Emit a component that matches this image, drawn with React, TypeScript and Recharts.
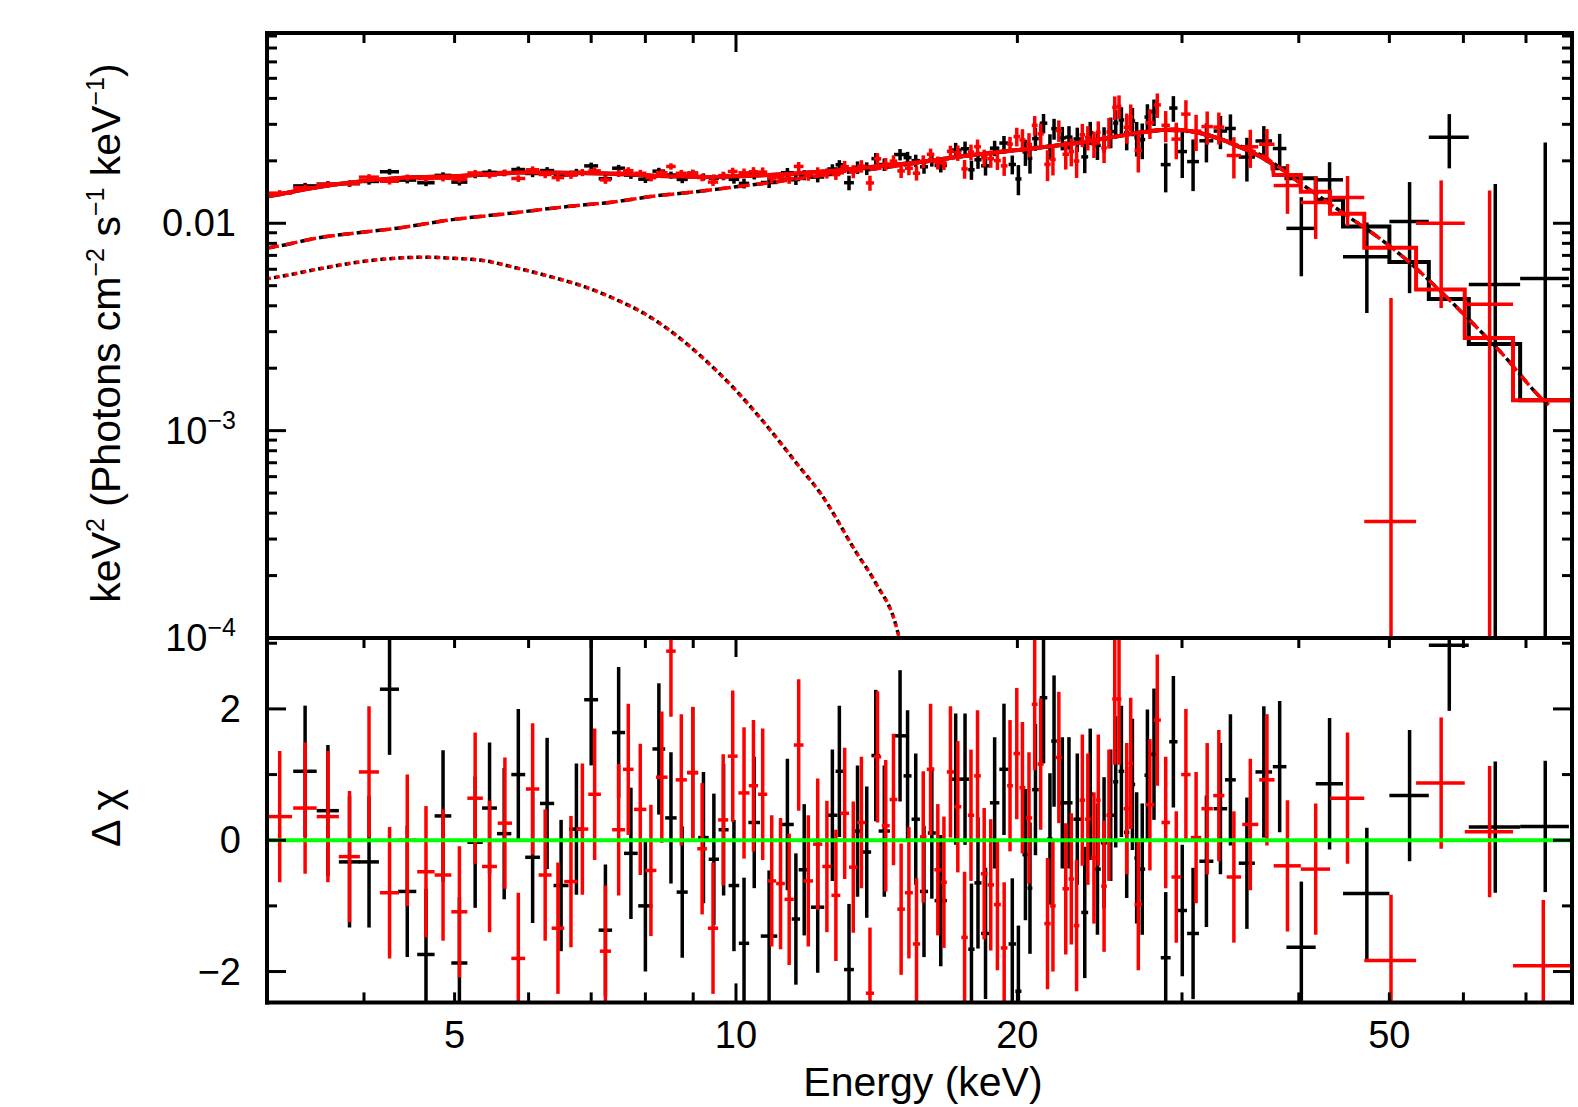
import React from 'react';
import { ComposedChart, XAxis, YAxis, Scatter, Line, ErrorBar, ReferenceLine } from 'recharts';

const FONT = '"Liberation Sans", Arial, Helvetica, sans-serif';
const BLACK = '#000000';
const RED = '#ff0000';
const GREEN = '#00ff00';

// axis ranges
const X_MIN = 3.15;
const X_MAX = 78.4;
const Y_MIN = 0.0001;
const Y_MAX = 0.0827;
const R_MIN = -2.47;
const R_MAX = 3.08;

// ticks
const xTicks = [4, 5, 6, 7, 8, 9, 10, 20, 30, 40, 50, 60, 70];
const xMajor = [10];
const xLabelled = [5, 10, 20, 50];
const yTicks = [
  0.0001, 0.0002, 0.0003, 0.0004, 0.0005, 0.0006, 0.0007, 0.0008, 0.0009,
  0.001, 0.002, 0.003, 0.004, 0.005, 0.006, 0.007, 0.008, 0.009,
  0.01, 0.02, 0.03, 0.04, 0.05, 0.06, 0.07, 0.08,
];
const yMajor = [0.0001, 0.001, 0.01];
const rTicks = [-2, -1, 0, 1, 2, 3];
const rMajor = [-2, 0, 2];

// ---------- data group 1 (black) ----------
const blackE = [
  3.46, 3.66, 3.86, 4.05, 4.26, 4.45, 4.66, 4.86, 5.06, 5.26,
  5.45, 5.65, 5.85, 6.06, 6.28, 6.5, 6.75, 7.0, 7.25, 7.49,
  7.72, 8.0, 8.27, 8.52, 8.76, 8.99, 9.23, 9.47, 9.7, 9.95,
  10.2, 10.46, 10.85, 11.35, 11.59, 11.83, 12.23, 12.68, 12.9, 13.21,
  13.49, 13.8, 14.11, 14.41, 14.98, 15.26, 15.57, 15.89, 16.2, 16.56,
  17.18, 17.58, 17.86, 18.15, 18.49, 18.91, 19.35, 19.75, 20.05, 20.4,
  20.63, 20.91, 21.33, 21.67, 21.89, 22.34, 22.71, 23.18, 23.61, 23.93,
  24.36, 24.76, 25.17, 25.48, 25.84, 26.18, 26.55, 26.83, 27.2, 27.55,
  28.0, 28.82, 29.37, 30.02, 30.83, 31.86, 32.98, 33.8, 35.2, 36.7,
  38.16, 40.25, 43.15, 47.3, 52.55, 57.95, 64.9, 73.4,
];
const blackHalfWidth = [
  0.1, 0.1, 0.1, 0.1, 0.1, 0.1, 0.1, 0.1, 0.1, 0.1,
  0.1, 0.1, 0.1, 0.11, 0.11, 0.12, 0.12, 0.12, 0.12, 0.12,
  0.13, 0.14, 0.13, 0.12, 0.12, 0.12, 0.12, 0.12, 0.12, 0.13,
  0.13, 0.15, 0.22, 0.18, 0.12, 0.16, 0.2, 0.16, 0.12, 0.16,
  0.15, 0.15, 0.15, 0.2, 0.22, 0.15, 0.16, 0.16, 0.16, 0.25,
  0.25, 0.18, 0.14, 0.16, 0.2, 0.22, 0.22, 0.18, 0.15, 0.15,
  0.12, 0.17, 0.2, 0.14, 0.15, 0.2, 0.2, 0.22, 0.2, 0.18,
  0.2, 0.2, 0.2, 0.16, 0.18, 0.17, 0.18, 0.15, 0.2, 0.2,
  0.3, 0.35, 0.3, 0.35, 0.45, 0.55, 0.55, 0.45, 0.7, 0.75,
  0.64, 1.45, 1.45, 2.7, 2.55, 2.85, 4.1, 4.4,
];
const blackFlux = [
  0.01514, 0.01544, 0.01552, 0.01591, 0.01772, 0.01615, 0.01568, 0.01702, 0.01579, 0.01708,
  0.0176, 0.01746, 0.01816, 0.01738, 0.01795, 0.01705, 0.0176, 0.01891, 0.01641, 0.01843,
  0.01706, 0.01632, 0.01784, 0.01708, 0.01627, 0.01744, 0.01673, 0.01651, 0.01687, 0.01628,
  0.01557, 0.0172, 0.01573, 0.01753, 0.01625, 0.01707, 0.01671, 0.01827, 0.01915, 0.01569,
  0.01858, 0.01837, 0.0205, 0.01919, 0.02145, 0.02073, 0.02004, 0.01872, 0.02015, 0.01899,
  0.02254, 0.02287, 0.01812, 0.02024, 0.01893, 0.02302, 0.02436, 0.01921, 0.01636, 0.0221,
  0.02056, 0.02559, 0.03038, 0.02357, 0.02859, 0.02581, 0.02602, 0.02549, 0.0209, 0.02734,
  0.02374, 0.02546, 0.02767, 0.0304, 0.03151, 0.02728, 0.03113, 0.02588, 0.02532, 0.03252,
  0.03448, 0.01918, 0.03594, 0.02217, 0.01983, 0.02499, 0.02784, 0.02865, 0.02086, 0.02494,
  0.02293, 0.00945, 0.0162, 0.00689, 0.0102, 0.026, 0.00507, 0.00541,
];
const blackFluxErr = [
  0.00051, 0.00053, 0.00055, 0.00056, 0.00057, 0.00058, 0.00058, 0.00059, 0.00059, 0.0006,
  0.00061, 0.00061, 0.00061, 0.0007, 0.0007, 0.0007, 0.0007, 0.0007, 0.0007, 0.0007,
  0.00069, 0.00068, 0.00068, 0.00067, 0.00067, 0.00067, 0.00067, 0.00067, 0.00075, 0.00076,
  0.00085, 0.00093, 0.00094, 0.00095, 0.00096, 0.00096, 0.00097, 0.00098, 0.001, 0.00127,
  0.00129, 0.0013, 0.00132, 0.00133, 0.00135, 0.00136, 0.00137, 0.00139, 0.0014, 0.00142,
  0.00187, 0.0019, 0.00192, 0.00194, 0.00195, 0.00197, 0.002, 0.002, 0.00271, 0.00319,
  0.00321, 0.00323, 0.00326, 0.00329, 0.0033, 0.00335, 0.00337, 0.00342, 0.00346, 0.00349,
  0.00354, 0.00358, 0.00466, 0.00472, 0.00477, 0.00481, 0.00486, 0.0049, 0.00495, 0.00497,
  0.00502, 0.00509, 0.00509, 0.00564, 0.00554, 0.00534, 0.00508, 0.00484, 0.00497, 0.00447,
  0.00405, 0.0039, 0.0035, 0.0032, 0.0056, 0.0076, 0.0104, 0.0191,
];
const blackResid = [
  1.05, 0.45, -0.33, -0.33, 2.3, -0.78, -1.74, 0.37, -1.87, -0.03,
  0.49, 0.1, 1.0, -0.26, 0.56, -0.69, 0.17, 2.14, -1.37, 1.64,
  -0.2, -1.0, 1.39, 0.34, -0.79, 1.03, 0.04, -0.29, 0.16, -0.69,
  -1.57, 0.27, -1.46, 0.24, -1.2, -0.45, -1.02, 0.38, 1.05, -1.97,
  0.14, -0.18, 1.29, 0.14, 1.59, 0.98, 0.32, -0.78, 0.11, -0.92,
  0.93, 0.93, -1.66, -0.65, -1.42, 0.57, 1.08, -1.58, -2.3, -0.22,
  -0.73, 0.77, 2.17, 0.02, 1.51, 0.57, 0.57, 0.32, -1.1, 0.7,
  -0.44, -0.04, 0.38, 0.89, 1.05, 0.12, 0.85, -0.27, -0.44, 0.99,
  1.31, -1.79, 1.5, -1.07, -1.42, -0.32, 0.48, 0.92, -0.35, 1.04,
  1.12, -1.63, 0.86, -0.81, 0.68, 2.97, 0.2, 0.21,
];

// ---------- data group 2 (red) ----------
const redE = [
  3.25, 3.46, 3.66, 3.86, 4.05, 4.26, 4.45, 4.66, 4.86, 5.06,
  5.26, 5.45, 5.66, 5.85, 6.06, 6.25, 6.45, 6.66, 6.85, 7.06,
  7.25, 7.49, 7.67, 7.9, 8.11, 8.33, 8.52, 8.74, 8.99, 9.2,
  9.45, 9.69, 9.92, 10.2, 10.44, 10.68, 10.92, 11.16, 11.4, 11.67,
  11.95, 12.23, 12.51, 12.79, 13.07, 13.35, 13.62, 13.91, 14.17, 14.46,
  14.74, 15.02, 15.31, 15.6, 15.86, 16.15, 16.44, 16.69, 16.96, 17.27,
  17.56, 17.84, 18.13, 18.43, 18.73, 19.04, 19.36, 19.64, 19.97, 20.25,
  20.58, 20.87, 21.18, 21.54, 21.83, 22.15, 22.53, 22.84, 23.14, 23.47,
  23.79, 24.15, 24.41, 24.76, 25.06, 25.42, 25.69, 26.18, 26.44, 26.94,
  27.72, 28.23, 28.82, 29.58, 30.29, 31.06, 31.92, 32.85, 34.09, 35.5,
  36.98, 38.9, 41.7, 45.1, 50.2, 56.8, 64.0, 73.05,
];
const redHalfWidth = [
  0.1, 0.1, 0.1, 0.1, 0.1, 0.1, 0.1, 0.1, 0.1, 0.1,
  0.1, 0.1, 0.1, 0.1, 0.1, 0.1, 0.1, 0.11, 0.1, 0.11,
  0.1, 0.12, 0.1, 0.12, 0.11, 0.12, 0.1, 0.12, 0.12, 0.11,
  0.12, 0.12, 0.12, 0.14, 0.12, 0.12, 0.12, 0.12, 0.13, 0.14,
  0.14, 0.14, 0.14, 0.14, 0.14, 0.14, 0.14, 0.14, 0.13, 0.14,
  0.14, 0.14, 0.15, 0.14, 0.13, 0.15, 0.14, 0.12, 0.15, 0.15,
  0.14, 0.14, 0.15, 0.15, 0.15, 0.16, 0.16, 0.14, 0.16, 0.15,
  0.16, 0.15, 0.16, 0.17, 0.15, 0.17, 0.18, 0.15, 0.16, 0.16,
  0.17, 0.17, 0.14, 0.17, 0.16, 0.16, 0.15, 0.2, 0.15, 0.25,
  0.3, 0.25, 0.3, 0.35, 0.35, 0.4, 0.45, 0.45, 0.6, 0.7,
  0.7, 1.3, 1.5, 1.9, 3.2, 3.4, 3.8, 5.25,
];
const redFlux = [
  0.01397, 0.01485, 0.01539, 0.01556, 0.01669, 0.01594, 0.0166, 0.01642, 0.01649, 0.01626,
  0.01748, 0.01706, 0.01756, 0.01644, 0.01811, 0.01719, 0.0166, 0.01706, 0.01757, 0.01789,
  0.01619, 0.01741, 0.01794, 0.01742, 0.01659, 0.01753, 0.01879, 0.01742, 0.01744, 0.01661,
  0.0158, 0.01698, 0.01777, 0.01751, 0.01772, 0.01765, 0.01652, 0.01658, 0.01644, 0.01879,
  0.017, 0.01764, 0.01741, 0.01717, 0.01872, 0.01777, 0.01885, 0.01565, 0.02047, 0.01929,
  0.01993, 0.01788, 0.01841, 0.01743, 0.01987, 0.02151, 0.01956, 0.01949, 0.02221, 0.02186,
  0.01829, 0.02203, 0.0234, 0.0207, 0.02047, 0.02006, 0.01892, 0.02407, 0.02618, 0.02524,
  0.02399, 0.02967, 0.02697, 0.01924, 0.0203, 0.028, 0.02151, 0.0222, 0.01996, 0.0267,
  0.02591, 0.02415, 0.02746, 0.02309, 0.02756, 0.0362, 0.03662, 0.02901, 0.03257, 0.02248,
  0.0305, 0.03722, 0.02968, 0.02545, 0.0336, 0.02782, 0.02926, 0.02908, 0.02122, 0.02337,
  0.02405, 0.0152, 0.0126, 0.0133, 0.000365, 0.01, 0.00407, -0.0026,
];
const redFluxErr = [
  0.00048, 0.00051, 0.00053, 0.00055, 0.00056, 0.00057, 0.00058, 0.00058, 0.00059, 0.00059,
  0.0006, 0.00061, 0.00061, 0.00061, 0.0007, 0.0007, 0.0007, 0.0007, 0.0007, 0.0007,
  0.0007, 0.0007, 0.00069, 0.00068, 0.00068, 0.00068, 0.00067, 0.00067, 0.00067, 0.00067,
  0.00067, 0.00075, 0.00076, 0.00085, 0.00093, 0.00094, 0.00094, 0.00095, 0.00095, 0.00096,
  0.00097, 0.00097, 0.00098, 0.00099, 0.00127, 0.00128, 0.0013, 0.00131, 0.00132, 0.00133,
  0.00134, 0.00135, 0.00137, 0.00137, 0.00139, 0.0014, 0.00141, 0.00143, 0.00145, 0.00188,
  0.0019, 0.00192, 0.00194, 0.00195, 0.00196, 0.00198, 0.002, 0.00202, 0.00271, 0.00318,
  0.00321, 0.00322, 0.00325, 0.00328, 0.0033, 0.00333, 0.00336, 0.00339, 0.00342, 0.00344,
  0.00347, 0.00351, 0.00354, 0.00358, 0.00464, 0.0047, 0.00475, 0.00481, 0.00484, 0.00491,
  0.005, 0.00504, 0.00509, 0.00509, 0.0056, 0.00552, 0.00534, 0.00512, 0.00478, 0.00488,
  0.0044, 0.0041, 0.0042, 0.0036, 0.004, 0.0061, 0.0103, 0.0021,
];
const redResid = [
  0.36, 0.49, 0.36, -0.25, 1.04, -0.8, 0.0, -0.48, -0.53, -1.09,
  0.64, -0.4, 0.26, -1.8, 0.78, -0.53, -1.34, -0.63, 0.17, 0.7,
  -1.69, 0.16, 1.08, 0.47, -0.46, 0.96, 2.88, 0.92, 1.03, -0.13,
  -1.34, 0.31, 1.28, 0.72, 0.83, 0.7, -0.62, -0.66, -0.9, 1.45,
  -0.62, -0.06, -0.4, -0.84, 0.41, -0.41, 0.27, -2.33, 1.27, 0.22,
  0.62, -1.05, -0.8, -1.58, 0.05, 1.08, -0.45, -0.64, 1.04, 0.51,
  -1.48, 0.38, 0.98, -0.51, -0.68, -0.98, -1.64, 0.83, 1.32, 0.8,
  0.34, 2.07, 1.16, -1.27, -1.0, 1.26, -0.74, -0.59, -1.3, 0.61,
  0.32, -0.27, 0.61, -0.7, 0.38, 2.15, 2.15, 0.48, 1.17, -0.98,
  0.54, 1.83, 0.27, -0.56, 1.0, 0.04, 0.48, 0.68, -0.56, 0.24,
  0.92, -0.39, -0.44, 0.64, -1.83, 0.87, 0.13, -1.91,
];

// ---------- model curves ----------
const modelE = [
  3.15, 3.25, 3.46, 3.66, 3.86, 4.05, 4.26, 4.45, 4.66, 4.86,
  5.06, 5.26, 5.45, 5.65, 5.85, 6.28, 6.75, 7.25, 7.72, 8.27,
  8.76, 9.23, 9.7, 10.2, 10.85, 11.6, 12.5, 13.5, 14.5, 15.5,
  16.5, 17.5, 18.5, 19.5, 20.5, 21.5, 22.5, 23.5, 24.5, 25.5,
  26.5, 27.5, 28.5, 29.5, 30.5, 31.5, 32.5, 33.5, 34.5, 35.5,
  36.5, 37.5,
];
const modelTotal = [
  0.01345, 0.0138, 0.0146, 0.0152, 0.0157, 0.0161, 0.0164, 0.0166, 0.0167, 0.0168,
  0.0169, 0.0171, 0.0173, 0.0174, 0.01755, 0.01756, 0.01748, 0.01736, 0.0172, 0.0169,
  0.0168, 0.0167, 0.01675, 0.0169, 0.0171, 0.0174, 0.0178, 0.0184, 0.019, 0.0196,
  0.0203, 0.0211, 0.0217, 0.0223, 0.0228, 0.0234, 0.024, 0.0246, 0.0254, 0.0262,
  0.027, 0.0276, 0.0282, 0.0283, 0.0279, 0.0271, 0.026, 0.0248, 0.0234, 0.0222,
  0.0208, 0.0193,
];
const blackStepEdges = [37.5, 38.8, 41.7, 44.6, 50.0, 55.1, 60.8, 69.0, 78.4];
const blackStepModel = [0.0184, 0.0165, 0.013, 0.00966, 0.0065, 0.00431, 0.00262, 0.0014];
const redStepEdges = [37.6, 40.2, 43.2, 47.0, 53.4, 60.2, 67.8, 78.4];
const redStepModel = [0.0171, 0.0142, 0.0111, 0.00762, 0.00479, 0.0028, 0.0014];

// continuum component (dashed)
const compE = [
  3.15, 3.25, 3.57, 3.94, 4.34, 4.95, 5.74, 6.6, 7.46, 8.1,
  9.2, 10, 11, 12, 13, 15, 17.5, 20, 22, 24,
  26, 28.4, 30.8, 33.5, 36.4, 40, 45, 48.9, 52.6, 56.3,
  60.2, 66.3, 72.5, 74.0,
];
const compV = [
  0.0076, 0.00778, 0.0085, 0.009, 0.00947, 0.01038, 0.01118, 0.01204, 0.01273, 0.01345,
  0.0143, 0.015, 0.0158, 0.0167, 0.0175, 0.019, 0.021, 0.0225, 0.0237, 0.025,
  0.0266, 0.0281, 0.0277, 0.0248, 0.0214, 0.0158, 0.0109, 0.0084, 0.00645, 0.00485,
  0.0036, 0.0023, 0.00145, 0.00133,
];
// blackbody component (dotted)
const bbE = [
  3.15, 3.25, 3.57, 3.94, 4.34, 4.68, 4.95, 5.38, 5.84, 6.33,
  6.88, 7.46, 7.97, 8.6, 9.27, 9.95, 10.67, 11.72, 12.31, 13.44,
  14.12, 14.83, 14.95,
];
const bbV = [
  0.0054, 0.00553, 0.00601, 0.00649, 0.00679, 0.00686, 0.00679, 0.0066, 0.00607, 0.00553,
  0.00495, 0.00427, 0.00368, 0.00292, 0.00219, 0.0016, 0.00112, 0.00066, 0.0005, 0.00026,
  0.000183, 0.000115, 0.0001,
];

// ---------- table builders ----------
type Row = { x: number; y: number; ex?: number[]; ey?: number[] };

function fluxRows(E: number[], hw: number[], F: number[], err: number[]): Row[] {
  const rows: Row[] = [];
  for (let i = 0; i < E.length; i++) {
    if (!(F[i] > Y_MIN)) continue;
    rows.push({
      x: E[i],
      y: F[i],
      ex: [hw[i], hw[i]],
      ey: [Math.min(err[i], F[i] - Y_MIN), Math.min(err[i], Y_MAX - F[i])],
    });
  }
  return rows;
}

function residRows(E: number[], hw: number[], R: number[]): Row[] {
  return E.map((x, i) => ({
    x,
    y: R[i],
    ex: [hw[i], hw[i]],
    ey: [Math.min(1, R[i] - R_MIN), Math.min(1, R_MAX - R[i])],
  }));
}

function curveRows(E: number[], V: number[]): Row[] {
  return E.map((x, i) => ({ x, y: V[i] }));
}

function modelRows(E: number[], V: number[], edges: number[], vals: number[]): Row[] {
  const rows = curveRows(E, V);
  vals.forEach((v, i) => {
    rows.push({ x: edges[i], y: v });
    rows.push({ x: edges[i + 1], y: v });
  });
  return rows;
}

const blackTop = fluxRows(blackE, blackHalfWidth, blackFlux, blackFluxErr);
const redTop = fluxRows(redE, redHalfWidth, redFlux, redFluxErr);
const blackRes = residRows(blackE, blackHalfWidth, blackResid);
const redRes = residRows(redE, redHalfWidth, redResid);
const blackModel = modelRows(modelE, modelTotal, blackStepEdges, blackStepModel);
const redModel = modelRows(modelE, modelTotal, redStepEdges, redStepModel);
const compRows = curveRows(compE, compV);
const bbRows = curveRows(bbE, bbV);

// ---------- ticks ----------
type Side = 'top' | 'bottom' | 'left' | 'right';

function sup(t: string) {
  return (
    <tspan dy={-15} fontSize={25}>
      {t}
    </tspan>
  );
}

function yTopLabel(v: number): React.ReactNode {
  if (v === 0.01) return '0.01';
  if (v === 0.001) return <>{'10'}{sup('\u22123')}</>;
  if (v === 0.0001) return <>{'10'}{sup('\u22124')}</>;
  return null;
}
function rLabel(v: number): React.ReactNode {
  if (v === 2) return '2';
  if (v === 0) return '0';
  if (v === -2) return '\u22122';
  return null;
}
function xLabel(v: number): React.ReactNode {
  return xLabelled.includes(v) ? String(v) : null;
}

function makeTick(side: Side, majors: number[], labelFn?: (v: number) => React.ReactNode, offset = 0) {
  return (props: any) => {
    const { x, y, payload } = props;
    const v = payload.value;
    const len = majors.includes(v) ? 19 : 10;
    let x2 = x;
    let y2 = y;
    if (side === 'bottom') y2 = y - len;
    if (side === 'top') y2 = y + len;
    if (side === 'left') x2 = x + len;
    if (side === 'right') x2 = x - len;
    const lbl = labelFn ? labelFn(v) : null;
    let text = null;
    if (lbl !== null && lbl !== undefined) {
      if (side === 'bottom') {
        text = (
          <text x={x} y={y + offset} textAnchor="middle" fontSize={38} fontFamily={FONT} fill={BLACK}>
            {lbl}
          </text>
        );
      } else if (side === 'left') {
        text = (
          <text x={x - offset} y={y + 13} textAnchor="end" fontSize={38} fontFamily={FONT} fill={BLACK}>
            {lbl}
          </text>
        );
      }
    }
    return (
      <g>
        <line x1={x} y1={y} x2={x2} y2={y2} stroke={BLACK} strokeWidth={3} />
        {text}
      </g>
    );
  };
}

const axisLine = { stroke: BLACK, strokeWidth: 4, strokeLinecap: 'square' as const };
const NoShape = () => <g />;
const DATA_W = 3.5;

export default function App() {
  return (
    <div style={{ position: 'absolute', left: 0, top: 0, width: 1578, height: 1107, background: '#ffffff', fontFamily: FONT }}>
      {/* upper panel: unfolded spectrum */}
      <div style={{ position: 'absolute', left: 0, top: 0 }}>
        <ComposedChart width={1578} height={700} margin={{ top: 32, right: 5, bottom: 62, left: 0 }}>
          <XAxis
            xAxisId="b" orientation="bottom" dataKey="x" type="number" scale="log"
            domain={[X_MIN, X_MAX]} allowDataOverflow ticks={xTicks} interval={0}
            height={0} tickSize={0} tickMargin={0} tickLine={false} axisLine={axisLine}
            tick={makeTick('bottom', xMajor)}
          />
          <XAxis
            xAxisId="t" orientation="top" dataKey="x" type="number" scale="log"
            domain={[X_MIN, X_MAX]} allowDataOverflow ticks={xTicks} interval={0}
            height={1} tickSize={0} tickMargin={0} tickLine={false} axisLine={axisLine}
            tick={makeTick('top', xMajor)}
          />
          <YAxis
            yAxisId="l" orientation="left" dataKey="y" type="number" scale="log"
            domain={[Y_MIN, Y_MAX]} allowDataOverflow ticks={yTicks} interval={0}
            width={267} tickSize={0} tickMargin={0} tickLine={false} axisLine={axisLine}
            tick={makeTick('left', yMajor, yTopLabel, 31)}
          />
          <YAxis
            yAxisId="r" orientation="right" dataKey="y" type="number" scale="log"
            domain={[Y_MIN, Y_MAX]} allowDataOverflow ticks={yTicks} interval={0}
            width={1} tickSize={0} tickMargin={0} tickLine={false} axisLine={axisLine}
            tick={makeTick('right', yMajor)}
          />
          {/* invisible series that anchors the mirrored top/right frame axes */}
          <Line data={compRows} dataKey="y" xAxisId="t" yAxisId="r" stroke="none" dot={false} activeDot={false} legendType="none" isAnimationActive={false} />
          <Scatter data={blackTop} dataKey="y" xAxisId="b" yAxisId="l" shape={NoShape} fill={BLACK} isAnimationActive={false}>
            <ErrorBar dataKey="ex" direction="x" width={0} stroke={BLACK} strokeWidth={DATA_W} isAnimationActive={false} />
            <ErrorBar dataKey="ey" direction="y" width={0} stroke={BLACK} strokeWidth={DATA_W} isAnimationActive={false} />
          </Scatter>
          <Line data={blackModel} dataKey="y" xAxisId="b" yAxisId="l" type="linear" dot={false} activeDot={false} stroke={BLACK} strokeWidth={4} isAnimationActive={false} />
          <Line data={compRows} dataKey="y" xAxisId="b" yAxisId="l" type="monotone" dot={false} activeDot={false} stroke={BLACK} strokeWidth={3.5} strokeDasharray="12 7" strokeDashoffset={4} isAnimationActive={false} />
          <Line data={bbRows} dataKey="y" xAxisId="b" yAxisId="l" type="monotone" dot={false} activeDot={false} stroke={BLACK} strokeWidth={3.5} strokeDasharray="4 5" strokeDashoffset={2} isAnimationActive={false} />
          <Scatter data={redTop} dataKey="y" xAxisId="b" yAxisId="l" shape={NoShape} fill={RED} isAnimationActive={false}>
            <ErrorBar dataKey="ex" direction="x" width={0} stroke={RED} strokeWidth={DATA_W} isAnimationActive={false} />
            <ErrorBar dataKey="ey" direction="y" width={0} stroke={RED} strokeWidth={DATA_W} isAnimationActive={false} />
          </Scatter>
          <Line data={redModel} dataKey="y" xAxisId="b" yAxisId="l" type="linear" dot={false} activeDot={false} stroke={RED} strokeWidth={4} isAnimationActive={false} />
          <Line data={compRows} dataKey="y" xAxisId="b" yAxisId="l" type="monotone" dot={false} activeDot={false} stroke={RED} strokeWidth={3.5} strokeDasharray="12 7" isAnimationActive={false} />
          <Line data={bbRows} dataKey="y" xAxisId="b" yAxisId="l" type="monotone" dot={false} activeDot={false} stroke={RED} strokeWidth={3.5} strokeDasharray="4 5" isAnimationActive={false} />
        </ComposedChart>
      </div>

      {/* lower panel: residuals */}
      <div style={{ position: 'absolute', left: 0, top: 0 }}>
        <ComposedChart width={1578} height={1107} margin={{ top: 637, right: 5, bottom: 0, left: 0 }}>
          <XAxis
            xAxisId="b" orientation="bottom" dataKey="x" type="number" scale="log"
            domain={[X_MIN, X_MAX]} allowDataOverflow ticks={xTicks} interval={0}
            height={104.6} tickSize={0} tickMargin={0} tickLine={false} axisLine={axisLine}
            tick={makeTick('bottom', xMajor, xLabel, 46)}
          />
          <XAxis
            xAxisId="t" orientation="top" dataKey="x" type="number" scale="log"
            domain={[X_MIN, X_MAX]} allowDataOverflow ticks={xTicks} interval={0}
            height={1} tickSize={0} tickMargin={0} tickLine={false} axisLine={axisLine}
            tick={makeTick('top', xMajor)}
          />
          <YAxis
            yAxisId="l" orientation="left" dataKey="y" type="number"
            domain={[R_MIN, R_MAX]} allowDataOverflow ticks={rTicks} interval={0}
            width={267} tickSize={0} tickMargin={0} tickLine={false} axisLine={axisLine}
            tick={makeTick('left', rMajor, rLabel, 26)}
          />
          <YAxis
            yAxisId="r" orientation="right" dataKey="y" type="number"
            domain={[R_MIN, R_MAX]} allowDataOverflow ticks={rTicks} interval={0}
            width={1} tickSize={0} tickMargin={0} tickLine={false} axisLine={axisLine}
            tick={makeTick('right', rMajor)}
          />
          {/* invisible series that anchors the mirrored top/right frame axes */}
          <Line data={blackRes} dataKey="y" xAxisId="t" yAxisId="r" stroke="none" dot={false} activeDot={false} legendType="none" isAnimationActive={false} />
          <Scatter data={blackRes} dataKey="y" xAxisId="b" yAxisId="l" shape={NoShape} fill={BLACK} isAnimationActive={false}>
            <ErrorBar dataKey="ex" direction="x" width={0} stroke={BLACK} strokeWidth={DATA_W} isAnimationActive={false} />
            <ErrorBar dataKey="ey" direction="y" width={0} stroke={BLACK} strokeWidth={DATA_W} isAnimationActive={false} />
          </Scatter>
          <Scatter data={redRes} dataKey="y" xAxisId="b" yAxisId="l" shape={NoShape} fill={RED} isAnimationActive={false}>
            <ErrorBar dataKey="ex" direction="x" width={0} stroke={RED} strokeWidth={DATA_W} isAnimationActive={false} />
            <ErrorBar dataKey="ey" direction="y" width={0} stroke={RED} strokeWidth={DATA_W} isAnimationActive={false} />
          </Scatter>
          <ReferenceLine y={0} xAxisId="b" yAxisId="l" stroke={GREEN} strokeWidth={4} ifOverflow="hidden" />
        </ComposedChart>
      </div>

      {/* axis titles */}
      <svg width={1578} height={1107} style={{ position: 'absolute', left: 0, top: 0, pointerEvents: 'none' }}>
        <text transform="translate(120,333) rotate(-90)" textAnchor="middle" fontSize={41} fontFamily={FONT} fill={BLACK}>
          {'keV'}
          <tspan dy={-16} fontSize={25}>{'2'}</tspan>
          <tspan dy={16}>{' (Photons cm'}</tspan>
          <tspan dy={-16} fontSize={25}>{'\u22122'}</tspan>
          <tspan dy={16}>{' s'}</tspan>
          <tspan dy={-16} fontSize={25}>{'\u22121'}</tspan>
          <tspan dy={16}>{' keV'}</tspan>
          <tspan dy={-16} fontSize={25}>{'\u22121'}</tspan>
          <tspan dy={16}>{')'}</tspan>
        </text>
        <text transform="translate(120,818) rotate(-90)" textAnchor="middle" fontSize={41} fontFamily={FONT} fill={BLACK}>
          {'\u0394 \u03c7'}
        </text>
        <text x={923} y={1096} textAnchor="middle" fontSize={41} fontFamily={FONT} fill={BLACK}>
          Energy (keV)
        </text>
      </svg>
    </div>
  );
}
